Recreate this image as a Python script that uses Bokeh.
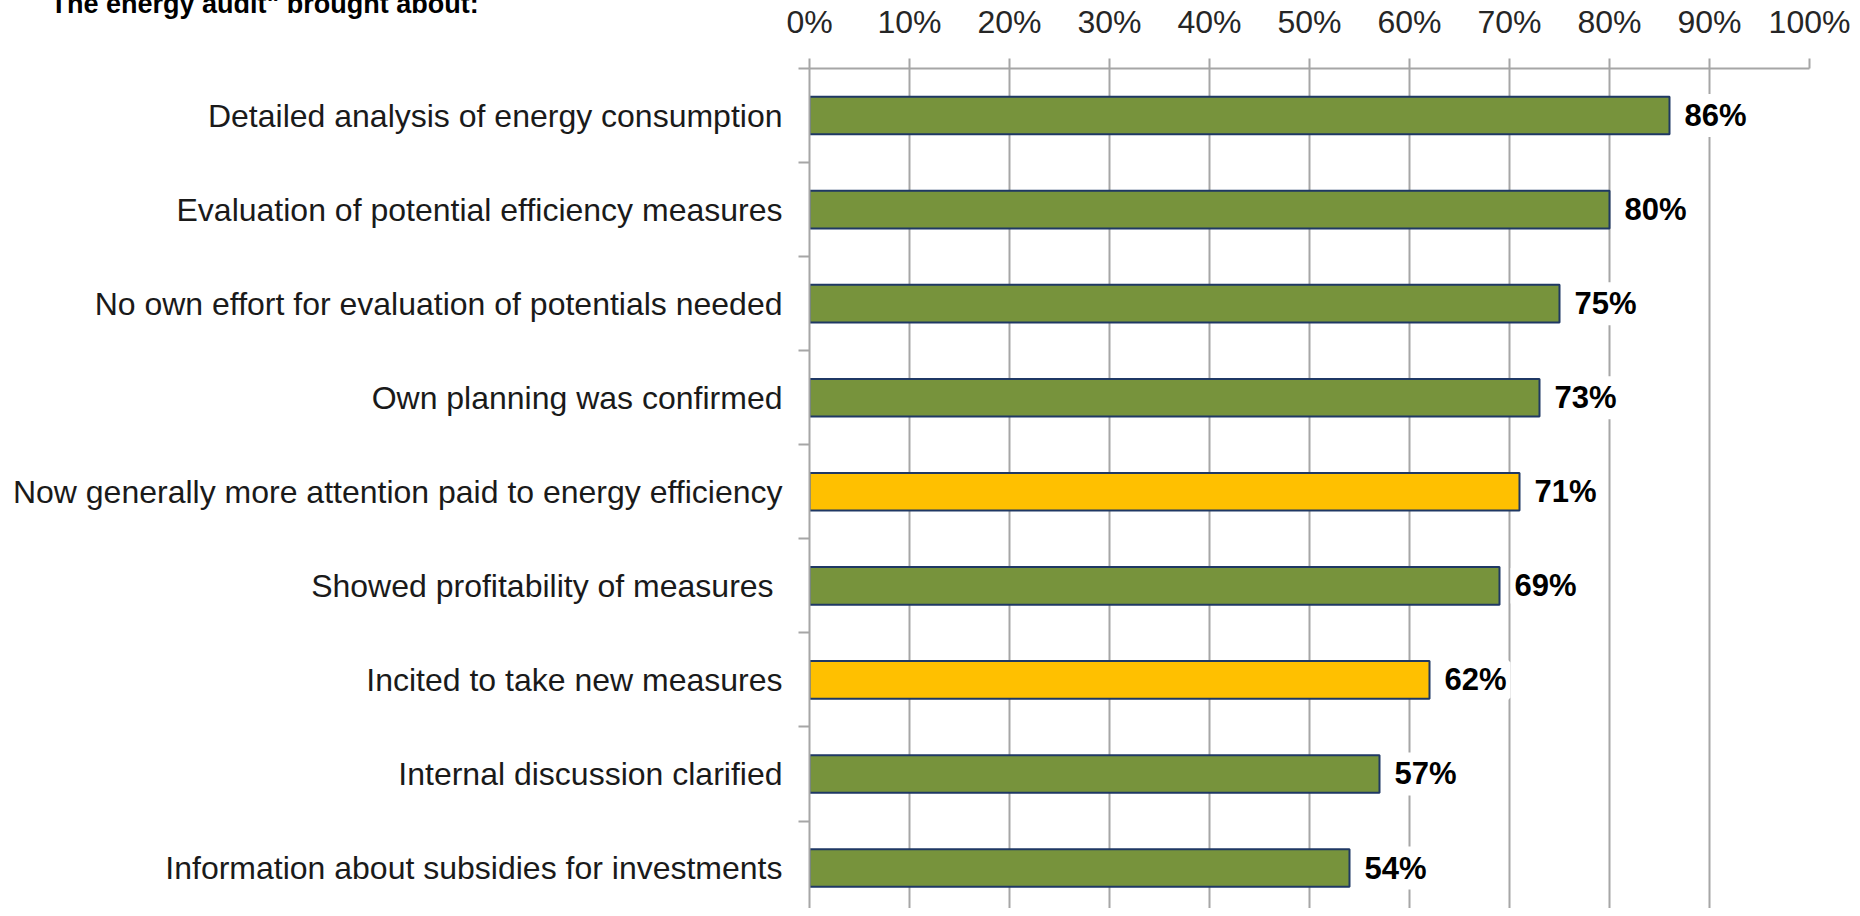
from bokeh.plotting import figure
from bokeh.models import (Range1d, FixedTicker, LinearAxis, NumeralTickFormatter,
                          ColumnDataSource, LabelSet, Title)
from bokeh.core.properties import value
from bokeh.embed import file_html
from bokeh.resources import INLINE

categories = [
    "Detailed analysis of energy consumption",
    "Evaluation of potential efficiency measures",
    "No own effort for evaluation of potentials needed",
    "Own planning was confirmed",
    "Now generally more attention paid to energy efficiency",
    "Showed profitability of measures ",
    "Incited to take new measures",
    "Internal discussion clarified",
    "Information about subsidies for investments",
]
values = [0.86, 0.80, 0.75, 0.73, 0.71, 0.69, 0.62, 0.57, 0.54]
highlight = [False, False, False, False, True, False, True, False, False]
value_labels = ["86%", "80%", "75%", "73%", "71%", "69%", "62%", "57%", "54%"]
x_ticks = [0.0, 0.1, 0.2, 0.3, 0.4, 0.5, 0.6, 0.7, 0.8, 0.9, 1.0]
title_text = 'The energy audit" brought about:'

GREEN = "#77933C"
YELLOW = "#FFC000"
GRID = "#A6A6A6"
FONT = "Liberation Sans"

ypos = list(range(len(categories)))
src = ColumnDataSource(dict(
    y=ypos,
    v=values,
    lab=value_labels,
    color=[YELLOW if h else GREEN for h in highlight],
))

p = figure(width=1852, height=908,
           x_range=Range1d(0, 1), y_range=Range1d(8.43, -0.5),
           x_axis_location=None, y_axis_location=None,
           output_backend="svg", toolbar_location=None,
           min_border_left=809, min_border_right=43,
           min_border_top=68, min_border_bottom=0)
p.outline_line_color = None
p.background_fill_color = "white"
p.border_fill_color = "white"

xt = FixedTicker(ticks=x_ticks)
xaxis = LinearAxis(ticker=xt, formatter=NumeralTickFormatter(format="0%"))
xaxis.axis_line_color = GRID
xaxis.axis_line_width = 2
xaxis.major_tick_line_color = GRID
xaxis.major_tick_line_width = 2
xaxis.major_tick_out = 10
xaxis.major_tick_in = 0
xaxis.minor_tick_line_color = None
xaxis.major_label_text_font = FONT
xaxis.major_label_text_font_size = "32px"
xaxis.major_label_text_color = "#262626"
xaxis.major_label_standoff = 19
p.add_layout(xaxis, "above")

yt = FixedTicker(ticks=ypos, minor_ticks=[i - 0.5 for i in range(len(categories) + 1)])
yaxis = LinearAxis(ticker=yt)
yaxis.major_label_overrides = {i: c for i, c in enumerate(categories)}
yaxis.axis_line_color = GRID
yaxis.axis_line_width = 2
yaxis.major_tick_line_color = None
yaxis.major_tick_out = 0
yaxis.major_tick_in = 0
yaxis.minor_tick_line_color = GRID
yaxis.minor_tick_line_width = 2
yaxis.minor_tick_out = 11
yaxis.minor_tick_in = 0
yaxis.major_label_text_font = FONT
yaxis.major_label_text_font_size = "32px"
yaxis.major_label_text_color = "#1a1a1a"
yaxis.major_label_standoff = 16
p.add_layout(yaxis, "left")

p.xgrid.ticker = xt
p.xgrid.grid_line_color = GRID
p.xgrid.grid_line_width = 2
p.ygrid.grid_line_color = None

p.hbar(y="y", left=0, right="v", height=0.4, source=src,
       fill_color="color", line_color="#1F3864", line_width=2)

labels = LabelSet(x="v", y="y", text="lab", source=src, x_offset=15,
                  text_baseline="middle", text_align="left",
                  text_font=value(FONT), text_font_size=value("31px"),
                  text_font_style=value("bold"),
                  text_color="black", background_fill_color="white",
                  border_line_color="white", border_line_width=8)
p.add_layout(labels)

# title in the top-left corner, partly cut off at the top as in the reference
title = Title(text=title_text, align="left", offset=-759, standoff=-36,
              text_font=FONT, text_font_size="27px", text_font_style="bold",
              text_color="black")
p.add_layout(title, "above")

open("out.html", "w").write(file_html(p, INLINE))
